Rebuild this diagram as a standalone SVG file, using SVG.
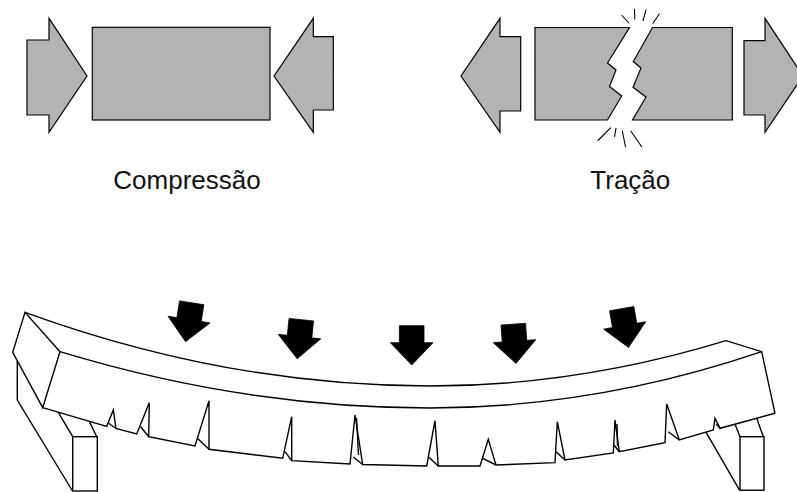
<svg xmlns="http://www.w3.org/2000/svg" width="797" height="492" viewBox="0 0 797 492">
  <style>
    .solid { fill: #b3b3b3; stroke: #000; stroke-width: 1.2; stroke-linejoin: miter; }
    .spark { fill: none; stroke: #000; stroke-width: 1.1; stroke-linecap: round; }
    .beam  { fill: none; stroke: #000; stroke-width: 1.4; stroke-linejoin: miter; }
    .load  { fill: #000; stroke: #000; stroke-width: 0.8; }
    .label { font-family: "Liberation Sans", Arial, Helvetica, sans-serif; font-size: 26px; fill: #111; text-anchor: middle; }
  </style>
  <defs>
    <!-- downward load arrow, origin at the centre of the shaft top -->
    <path id="load-arrow" d="M-12.3,0 L12.3,0 L12.3,17 L21.3,17 L0,39.3 L-21.3,17 L-12.3,17 Z"/>
  </defs>

  <rect width="797" height="492" fill="#fff"/>

  <!-- Compression: block squeezed by two arrows -->
  <g id="compression">
    <polygon class="solid" points="27,40 49,40 49,18.3 87,76 49,132.3 49,115 27,115"/>
    <rect class="solid" x="92.3" y="27.3" width="177.7" height="92.7"/>
    <polygon class="solid" points="333.3,36.7 313.3,36.7 313.3,18.3 274,76 313.3,132.3 313.3,110 333.3,110"/>
    <text class="label" x="187" y="188.5">Compressão</text>
  </g>

  <!-- Tension: block pulled apart and cracked -->
  <g id="traction">
    <polygon class="solid" points="520.7,36.7 500,36.7 500,18.3 461,76 500,132.3 500,111 520.7,111"/>
    <polygon class="solid" points="535,27.5 629.5,27.5 607.5,63 616,70 609.5,86.5 621.7,96 607.5,120 535,120"/>
    <polygon class="solid" points="652.5,27.5 732.3,27.5 732.3,120 632.5,120 646,97 633,87.3 641,68 633.3,61.5"/>
    <polygon class="solid" points="744,40.7 765,40.7 765,18.3 803,76 765,132.3 765,115 744,115"/>
    <g id="crack-sparks">
      <line class="spark" x1="622" y1="15.5" x2="628.8" y2="23"/>
      <line class="spark" x1="634.5" y1="9.3" x2="634.8" y2="19"/>
      <line class="spark" x1="646" y1="10" x2="643" y2="20.5"/>
      <line class="spark" x1="659.3" y1="14" x2="653" y2="23.3"/>
      <line class="spark" x1="598" y1="140.5" x2="610.5" y2="127.8"/>
      <line class="spark" x1="614.5" y1="136.5" x2="616" y2="128.3"/>
      <line class="spark" x1="625.5" y1="146.7" x2="622.3" y2="131"/>
      <line class="spark" x1="630.8" y1="131" x2="641.7" y2="146.7"/>
    </g>
    <text class="label" x="630.3" y="188.5">Tração</text>
  </g>

  <!-- Bent beam on two supports, cracked along its underside -->
  <g id="beam">
    <!-- top back edge and top front edge -->
    <path class="beam" d="M25,312.3 Q227.5,386 430,386 Q578,386 726,340.7"/>
    <path class="beam" d="M60,351.7 Q245,408 430,408 Q596,408 761.7,351.7"/>
    <!-- left end face -->
    <polyline class="beam" points="60,351.7 25,312.3 12.7,352.3 42.7,407.7 60,351.7"/>
    <polyline class="beam" points="17.3,361 17.3,400 72.5,491"/>
    <!-- right end face -->
    <polyline class="beam" points="726,340.7 761.7,351.7 775,413.3"/>
    <!-- cracked bottom edge -->
    <polyline class="beam" points="42.7,407.7 106.7,426.5 113.3,410 116,428.5 136.7,434 149.3,402.7 148.7,436.7 195,446 209,400.7 209,449.3 282.7,458.3 291.7,416.7 291.7,460.7 350,464 355,415 362.7,464.5 426.7,466 435,420.7 438.3,466 480,466 488.3,439.3 496,465 555,462.7 557.3,421.7 565,460 613.3,453 615,420 619.3,451.7 665,442.7 666.7,404 679.3,440 713.3,430 715,418.3 720,428.3 775,413.3"/>
    <!-- inner faces of the cracks -->
    <g id="crack-faces">
      <line class="beam" x1="108.3" y1="423" x2="116" y2="428.5"/>
      <line class="beam" x1="140.7" y1="426.7" x2="148.7" y2="436.7"/>
      <line class="beam" x1="197.3" y1="438.3" x2="209" y2="449.3"/>
      <line class="beam" x1="285" y1="451.7" x2="291.7" y2="460.7"/>
      <line class="beam" x1="353.3" y1="457" x2="362.7" y2="464.5"/>
      <line class="beam" x1="356.5" y1="418" x2="358.5" y2="455"/>
      <line class="beam" x1="428.3" y1="456.7" x2="438.3" y2="466"/>
      <line class="beam" x1="482.7" y1="458.3" x2="496" y2="465"/>
      <line class="beam" x1="556" y1="451.7" x2="565" y2="460"/>
      <line class="beam" x1="614" y1="445" x2="619.3" y2="451.7"/>
      <line class="beam" x1="617" y1="424" x2="617.5" y2="446"/>
      <line class="beam" x1="668.3" y1="431.7" x2="679.3" y2="440"/>
      <line class="beam" x1="716.3" y1="424" x2="720" y2="428.3"/>
    </g>
  </g>

  <!-- supports -->
  <g id="support-left">
    <rect class="beam" x="72.7" y="436.7" width="24.6" height="54.3"/>
    <line class="beam" x1="72.7" y1="436.7" x2="58.3" y2="412.3"/>
    <line class="beam" x1="96.7" y1="436.7" x2="89.3" y2="421.4"/>
  </g>
  <g id="support-right">
    <rect class="beam" x="740" y="436.7" width="24" height="53.5"/>
    <line class="beam" x1="740" y1="436.7" x2="735" y2="424.2"/>
    <line class="beam" x1="763.3" y1="436.7" x2="756.7" y2="418.3"/>
    <line class="beam" x1="706" y1="432.2" x2="739.5" y2="490.2"/>
  </g>

  <!-- distributed loads -->
  <g id="loads">
    <use href="#load-arrow" class="load" transform="translate(191.7,302.8) rotate(9)"/>
    <use href="#load-arrow" class="load" transform="translate(301.3,319.7) rotate(6)"/>
    <use href="#load-arrow" class="load" transform="translate(411.7,325.7)"/>
    <use href="#load-arrow" class="load" transform="translate(513.3,324.2) rotate(-4)"/>
    <use href="#load-arrow" class="load" transform="translate(621.7,308.7) rotate(-10)"/>
  </g>
</svg>
